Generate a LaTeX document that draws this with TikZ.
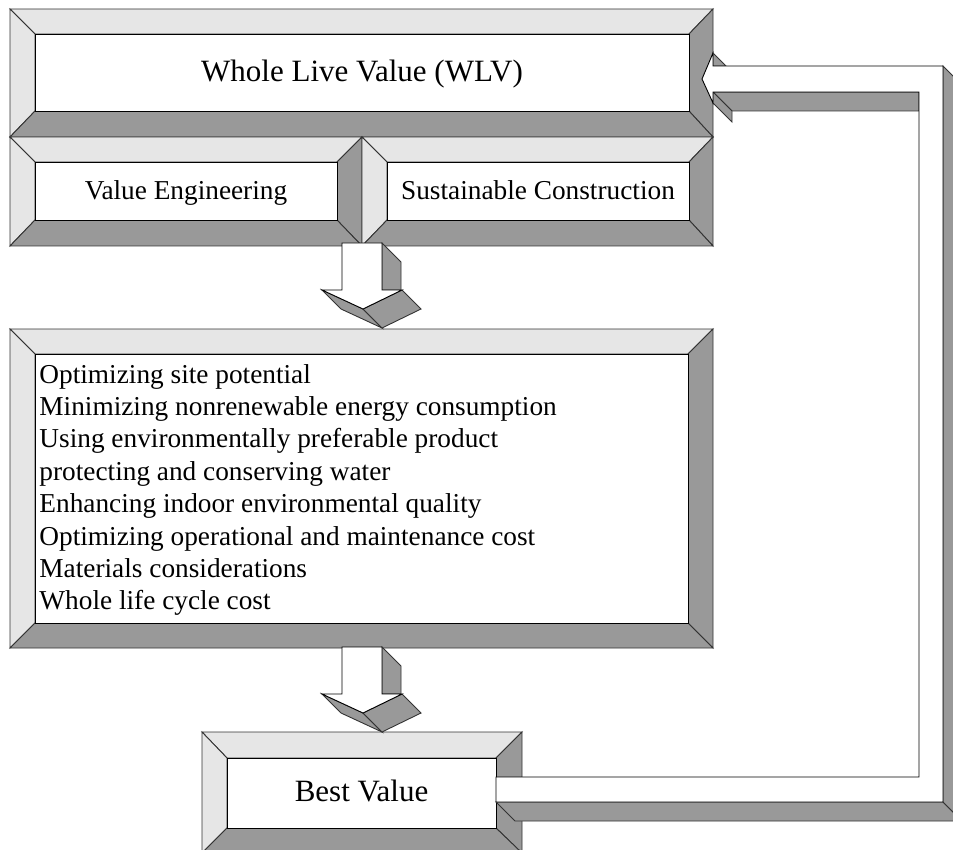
\documentclass[tikz,border=0pt]{standalone}
\usepackage{fontspec}
\setmainfont{Liberation Serif}
\definecolor{lite}{HTML}{E6E6E6}
\definecolor{dark}{HTML}{999999}
\tikzset{
  lt/.style={fill=lite,draw=black!80},
  dk/.style={fill=dark,draw=black!80},
  face/.style={fill=white,draw=black},
  big/.style={font=\fontsize{31}{36}\selectfont,inner sep=0pt,anchor=base},
  med/.style={font=\fontsize{27.3}{32}\selectfont,inner sep=0pt,anchor=base},
}
% bevel box: outer x1 y1 x2 y2, inner ix1 iy1 ix2 iy2
\newcommand\bvbox[8]{%
  \filldraw[lt] (#1,#2) -- (#3,#2) -- (#7,#6) -- (#5,#6) -- cycle;
  \filldraw[lt] (#1,#2) -- (#5,#6) -- (#5,#8) -- (#1,#4) -- cycle;
  \filldraw[dk] (#3,#2) -- (#3,#4) -- (#7,#8) -- (#7,#6) -- cycle;
  \filldraw[dk] (#1,#4) -- (#5,#8) -- (#7,#8) -- (#3,#4) -- cycle;
  \filldraw[face] (#5,#6) rectangle (#7,#8);
}
% 3D down arrow, vertical offset
\newcommand\downarrowthreed[1]{%
  \filldraw[dk] (382,243+#1) -- (401,262+#1) -- (401,290+#1) -- (382,290+#1) -- cycle;
  \filldraw[dk] (322,290+#1) -- (341,309+#1) -- (382,328+#1) -- (363,309+#1) -- cycle;
  \filldraw[dk] (363,309+#1) -- (402,290+#1) -- (421,309+#1) -- (382,328+#1) -- cycle;
  \filldraw[face] (342,243+#1) -- (382,243+#1) -- (382,290+#1) -- (402,290+#1)
     -- (363,309+#1) -- (322,290+#1) -- (342,290+#1) -- cycle;
}
\begin{document}
\begin{tikzpicture}[x=1pt,y=-1pt,line width=0.9pt,line join=miter]
\useasboundingbox (0,0) rectangle (953,850);
\clip (0,0) rectangle (953,850);

% boxes
\bvbox{10}{9}{713}{137}{35}{34}{689}{111}
\bvbox{10}{137}{362}{246}{35}{162}{337}{220}
\bvbox{362}{137}{713}{246}{387}{162}{689}{220}
\bvbox{10}{329}{713}{648}{35}{354}{688}{623}
\bvbox{202}{732}{522}{853}{227}{758}{496}{828}

% text
\node[big] (wlv) at (362,82) {Whole Live Value (WLV)};
\node[med] (ve) at (186,200) {Value Engineering};
\node[med] (sc) at (538,200) {Sustainable Construction};
\node[big] (bv) at (361.5,801) {Best Value};
\foreach \t [count=\i from 0] in {Optimizing site potential,
  Minimizing nonrenewable energy consumption,
  Using environmentally preferable product,
  protecting and conserving water,
  Enhancing indoor environmental quality,
  Optimizing operational and maintenance cost,
  Materials considerations,
  Whole life cycle cost}
  \node[med,anchor=base west] (l\i) at (39,383+32.4*\i) {\t};

% down arrows
\downarrowthreed{0}
\downarrowthreed{404}

% feedback arrow (3D)
\filldraw[dk] (496,802) -- (943,802) -- (962,821) -- (515,821) -- cycle;
\filldraw[dk] (943,66) -- (962,85) -- (962,821) -- (943,802) -- cycle;
\filldraw[dk] (713,92) -- (919,92) -- (919,111) -- (732,111) -- cycle;
\filldraw[dk] (713,92) -- (732,111) -- (732,122) -- (713,103) -- cycle;
\filldraw[dk] (713,53) -- (726,66) -- (713,66) -- cycle;
\filldraw[face] (496,777) -- (919,777) -- (919,92) -- (713,92) -- (713,103)
   -- (702,79) -- (713,53) -- (713,66) -- (943,66) -- (943,802) -- (496,802) -- cycle;
\end{tikzpicture}
\end{document}
